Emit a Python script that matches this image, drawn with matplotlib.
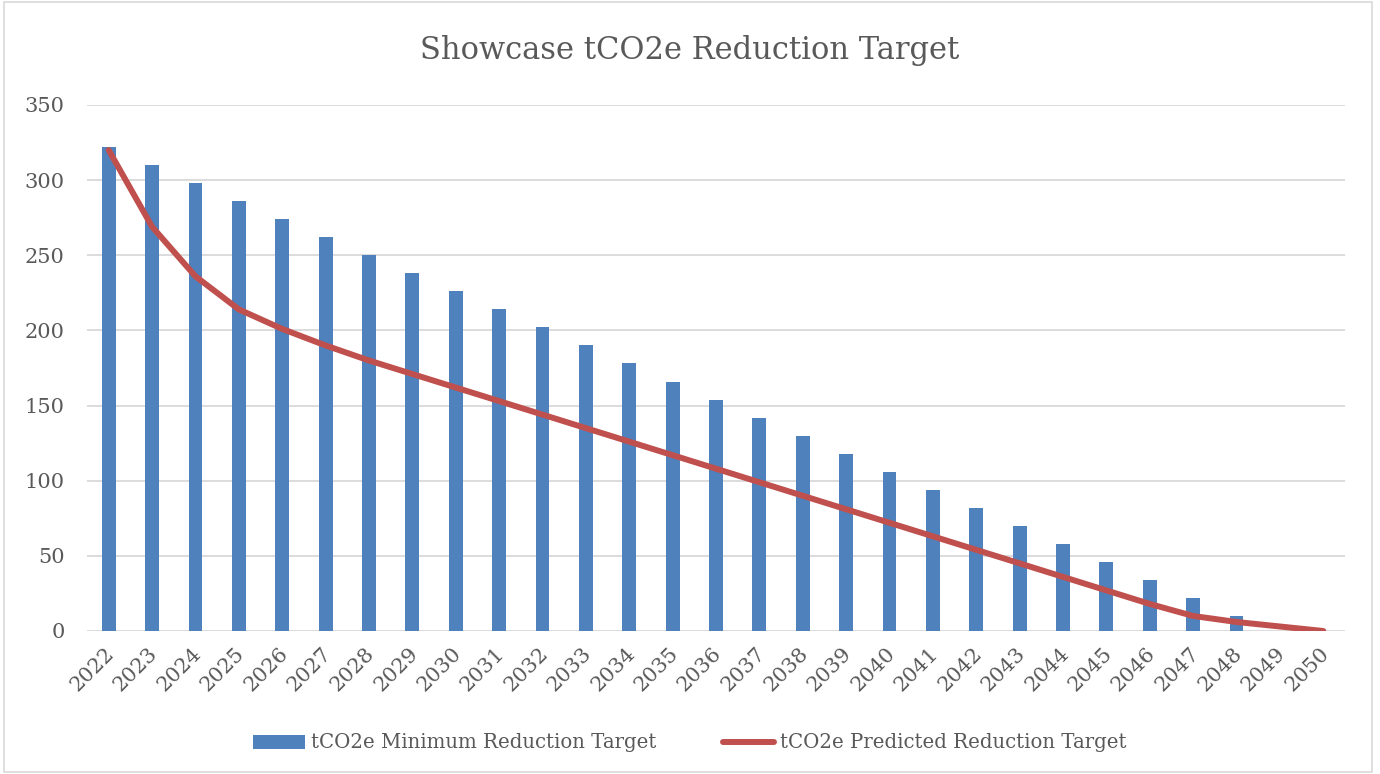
import matplotlib.pyplot as plt
from matplotlib.patches import Rectangle
from matplotlib.transforms import ScaledTranslation

years = [str(y) for y in range(2022, 2051)]
min_target = [322, 310, 298, 286, 274, 262, 250, 238, 226, 214, 202, 190, 178, 166,
              154, 142, 130, 118, 106, 94, 82, 70, 58, 46, 34, 22, 10, 0, 0]
predicted = [320, 269, 236, 214, 201, 190, 180, 171, 162, 153, 144, 135, 126, 117,
             108, 99, 90, 81, 72, 63, 54, 45, 36, 27, 18, 10, 6, 3, 0]

text_col = '#595959'
plt.rcParams['font.family'] = ['DejaVu Serif']

fig = plt.figure(figsize=(13.8, 7.74), dpi=100)
ax = fig.add_axes([87 / 1380, 1 - 631 / 774, 1258 / 1380, 526 / 774])

x = range(len(years))
bars = ax.bar(x, min_target, width=0.32, color='#4F81BD', zorder=2,
              label='tCO2e Minimum Reduction Target')
line, = ax.plot(x, predicted, color='#C0504D', linewidth=4.3, zorder=3,
                solid_capstyle='round', label='tCO2e Predicted Reduction Target')

ax.set_xlim(-0.5, len(years) - 0.5)
ax.set_ylim(0, 350)
ax.set_yticks(range(0, 351, 50))
ax.set_xticks(list(x))
ax.set_xticklabels(years, rotation=45, ha='right', rotation_mode='anchor')
ax.yaxis.grid(True, color='#D9D9D9', linewidth=1.3, zorder=0)
ax.set_axisbelow(True)
for s in ax.spines.values():
    s.set_visible(False)
ax.tick_params(axis='both', length=0, labelsize=15, colors=text_col)
ax.tick_params(axis='x', pad=9)
ax.tick_params(axis='y', pad=16)
for lbl in ax.get_xticklabels():
    lbl.set_transform(lbl.get_transform() + ScaledTranslation(-4 / 100, 0, fig.dpi_scale_trans))

fig.text(0.5, 1 - 50 / 774, 'Showcase tCO2e Reduction Target', ha='center', va='center',
         fontsize=22, color=text_col)

leg = fig.legend([bars, line], [bars.get_label(), line.get_label()], loc='center',
                 bbox_to_anchor=(0.5, 1 - 743 / 774), ncol=2, frameon=False,
                 fontsize=14.2, handlelength=2.6, columnspacing=3.4, handletextpad=0.3)
for t in leg.get_texts():
    t.set_color(text_col)

fig.patches.append(Rectangle((4 / 1380, 2 / 774), 1368 / 1380, 770 / 774, transform=fig.transFigure,
                             fill=False, edgecolor='#D9D9D9', linewidth=1.2))

fig.savefig('out.png', dpi=100)
